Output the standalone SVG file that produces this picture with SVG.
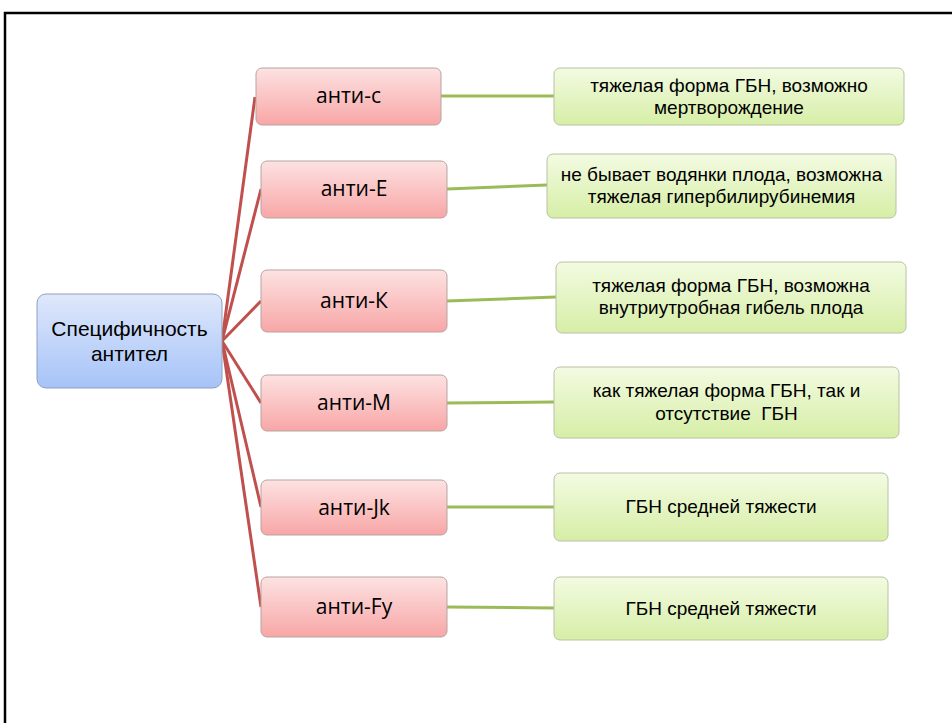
<svg xmlns="http://www.w3.org/2000/svg" width="952" height="723" viewBox="0 0 952 723">
<defs>
<linearGradient id="gR" x1="0" y1="0" x2="0" y2="1"><stop offset="0" stop-color="#fde2e2"/><stop offset="1" stop-color="#f8a6a6"/></linearGradient>
<linearGradient id="gB" x1="0" y1="0" x2="0" y2="1"><stop offset="0" stop-color="#dfe8fb"/><stop offset="1" stop-color="#a6c3f8"/></linearGradient>
<linearGradient id="gG" x1="0" y1="0" x2="0" y2="1"><stop offset="0" stop-color="#f3fbe2"/><stop offset="1" stop-color="#d6eea6"/></linearGradient>
<style>
.r{fill:url(#gR);stroke:#b9a3a3;stroke-width:1}
.b{fill:url(#gB);stroke:#8fa0bd;stroke-width:1}
.g{fill:url(#gG);stroke:#b8c2a4;stroke-width:1}
text{font-family:"Open Sans","Liberation Sans",sans-serif;fill:#000;text-anchor:middle}
.tr{font-size:21px}
.tb{font-family:"Liberation Sans",sans-serif;font-size:21px}
.tg{font-family:"Liberation Sans",sans-serif;font-size:19px}
.cr{stroke:#c0504d;stroke-width:3;fill:none}
.cg{stroke:#9bbb59;stroke-width:3;fill:none}
</style>
</defs>
<rect x="5" y="13" width="960" height="720" fill="none" stroke="#000" stroke-width="2.5"/>
<g id="connectors">
<line class="cr" x1="222" y1="341" x2="255" y2="97"/>
<line class="cr" x1="222" y1="341" x2="261" y2="189"/>
<line class="cr" x1="222" y1="341" x2="261" y2="301"/>
<line class="cr" x1="222" y1="341" x2="261" y2="403"/>
<line class="cr" x1="222" y1="341" x2="261" y2="507"/>
<line class="cr" x1="222" y1="341" x2="261" y2="607"/>
<line class="cg" x1="441" y1="96" x2="554" y2="96"/>
<line class="cg" x1="447" y1="189" x2="547" y2="185"/>
<line class="cg" x1="447" y1="301" x2="556" y2="297"/>
<line class="cg" x1="447" y1="403" x2="554" y2="402"/>
<line class="cg" x1="447" y1="507" x2="554" y2="507"/>
<line class="cg" x1="447" y1="607" x2="554" y2="608"/>
</g>
<g id="root"><rect class="b" x="37" y="294" width="185" height="94" rx="9"/><text class="tb" x="129.5" y="336">Специфичность</text><text class="tb" x="129.5" y="361">антител</text></g>
<g id="a1"><rect class="r" x="256" y="68" width="185" height="57" rx="6"/><text class="tr" x="348.5" y="103">анти-с</text></g>
<g id="a2"><rect class="r" x="261" y="161" width="186" height="57" rx="6"/><text class="tr" x="354" y="196">анти-Е</text></g>
<g id="a3"><rect class="r" x="261" y="270" width="186" height="62" rx="6"/><text class="tr" x="354" y="308">анти-К</text></g>
<g id="a4"><rect class="r" x="261" y="375" width="186" height="56" rx="6"/><text class="tr" x="354" y="410">анти-М</text></g>
<g id="a5"><rect class="r" x="261" y="480" width="186" height="55" rx="6"/><text class="tr" x="354" y="515">анти-Jk</text></g>
<g id="a6"><rect class="r" x="261" y="577" width="186" height="60" rx="6"/><text class="tr" x="354" y="614">анти-Fy</text></g>
<g id="d1"><rect class="g" x="554" y="68" width="350" height="57" rx="6"/><text class="tg" x="729" y="92">тяжелая форма ГБН, возможно</text><text class="tg" x="729" y="114">мертворождение</text></g>
<g id="d2"><rect class="g" x="547" y="154" width="349" height="64" rx="6"/><text class="tg" x="721.5" y="181">не бывает водянки плода, возможна</text><text class="tg" x="721.5" y="203">тяжелая гипербилирубинемия</text></g>
<g id="d3"><rect class="g" x="556" y="262" width="350" height="71" rx="6"/><text class="tg" x="731" y="292">тяжелая форма ГБН, возможна</text><text class="tg" x="731" y="314">внутриутробная гибель плода</text></g>
<g id="d4"><rect class="g" x="554" y="367" width="345" height="71" rx="6"/><text class="tg" x="726.5" y="397">как тяжелая форма ГБН, так и</text><text class="tg" x="726.5" y="420" xml:space="preserve">отсутствие  ГБН</text></g>
<g id="d5"><rect class="g" x="554" y="473" width="334" height="68" rx="6"/><text class="tg" x="721" y="513">ГБН средней тяжести</text></g>
<g id="d6"><rect class="g" x="554" y="577" width="334" height="63" rx="6"/><text class="tg" x="721" y="615">ГБН средней тяжести</text></g>
</svg>
